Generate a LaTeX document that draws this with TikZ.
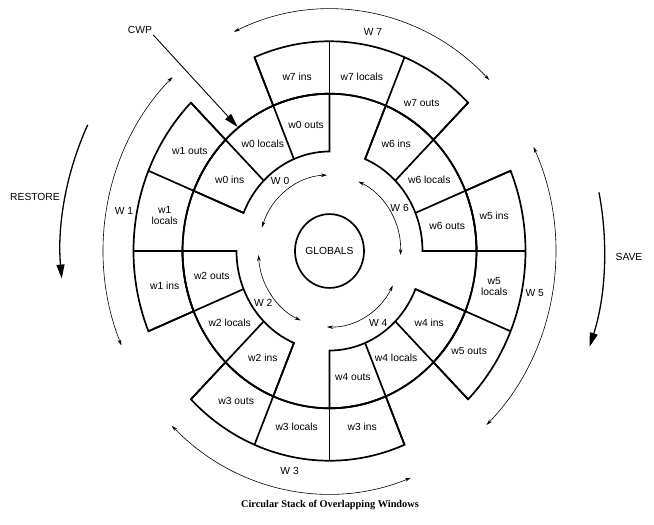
\documentclass[tikz,border=0pt]{standalone}
\usepackage{fontspec}
\setmainfont{Liberation Serif}
\setsansfont{Liberation Sans}
\usetikzlibrary{arrows.meta,positioning}

\tikzset{
  regbox/.style={line width=1.7pt, line join=miter},
  reglabel/.style={font=\sffamily\fontsize{10.3}{11}\selectfont, inner sep=1pt, align=center},
  winarrow/.style={{Stealth[length=6pt,width=3.5pt]}-{Stealth[length=6pt,width=3.5pt]}, line width=0.6pt},
  bigarrow/.style={-{Triangle[length=14pt,width=8pt]}, line width=1.3pt},
}

\begin{document}
\begin{tikzpicture}[x=1pt,y=1.07pt]
   \useasboundingbox (-329.5,-255.14) rectangle (324.5,234.58);

   % globals in the middle
   \draw[regbox] (0,0) circle[radius=34.5];
   \node[reglabel] (globals) at (0,0) {GLOBALS};

   % the two rings of windows
   \draw[regbox] (0,0) circle[radius=147];
   \foreach \a in {0,90,180,270} {
      \draw[regbox] (\a:93) arc[start angle=\a, end angle=\a+67.5, radius=93]
         -- (\a+67.5:147) arc[start angle=\a+67.5, end angle=\a, radius=147] -- cycle;
      \draw[regbox] (\a+45:147) arc[start angle=\a+45, end angle=\a+112.5, radius=147]
         -- (\a+112.5:196) arc[start angle=\a+112.5, end angle=\a+45, radius=196] -- cycle;
   }
   \foreach \a in {0,22.5,...,337.5}
      \draw[regbox] (\a:93) -- (\a:196);

   % register sets
   \foreach \n/\r/\loc in {0/120/{w0 locals}, 1/168/{w1\\locals}, 2/120/{w2 locals},
         3/168/{w3 locals}, 4/120/{w4 locals}, 5/168/{w5\\locals},
         6/120/{w6 locals}, 7/166/{w7 locals}} {
      \node[reglabel] (w\n outs) at (90+45*\n+11.25:\r) {w\n\ outs};
      \node[reglabel] (w\n locals) at (90+45*\n+33.75:\r) {\loc};
      \node[reglabel] (w\n ins) at (90+45*\n+56.25:\r) {w\n\ ins};
   }

   % window names
   \node[reglabel] (W0) at (127:82) {W 0};
   \node[reglabel] (W2) at (216:82) {W 2};
   \node[reglabel] (W4) at (306:83) {W 4};
   \node[reglabel] (W6) at (30:81) {W 6};
   \node[reglabel] (W1) at (169.6:209) {W 1};
   \node[reglabel] (W3) at (259:209) {W 3};
   \node[reglabel] (W5) at (-10.8:209) {W 5};
   \node[reglabel] (W7) at (78:209) {W 7};

   % window spans
   \draw[winarrow] (92:71) arc[start angle=92, end angle=162, radius=71];
   \draw[winarrow] (183:71) arc[start angle=183, end angle=246, radius=71];
   \draw[winarrow] (268:71) arc[start angle=268, end angle=333, radius=71];
   \draw[winarrow] (-3:71) arc[start angle=-3, end angle=66, radius=71];
   \draw[winarrow] (45:226) arc[start angle=45, end angle=115, radius=226];
   \draw[winarrow] (134:226) arc[start angle=134, end angle=203, radius=226];
   \draw[winarrow] (226:227) arc[start angle=226, end angle=291, radius=227];
   \draw[winarrow] (-46:226) arc[start angle=-46, end angle=25.5, radius=226];

   % restore and save
   \node[reglabel] (restore) at (-294.5,50.5) {RESTORE};
   \draw[bigarrow] (154:269) arc[start angle=154, end angle=185.5, radius=269];
   \node[reglabel] (save) at (299.5,-5.6) {SAVE};
   \draw[bigarrow] (11.5:275) arc[start angle=11.5, end angle=-19, radius=275];

   % current window pointer
   \node[reglabel] (cwp) at (-189.5,206.5) {CWP};
   \coordinate (cwptip) at (128.4:148);
   \draw[bigarrow, line width=0.9pt] (cwp.south east) -- (cwptip);

   \node[font=\bfseries\fontsize{10.3}{12}\selectfont] (caption) at (0.5,-237.4)
      {Circular Stack of Overlapping Windows};
\end{tikzpicture}
\end{document}
